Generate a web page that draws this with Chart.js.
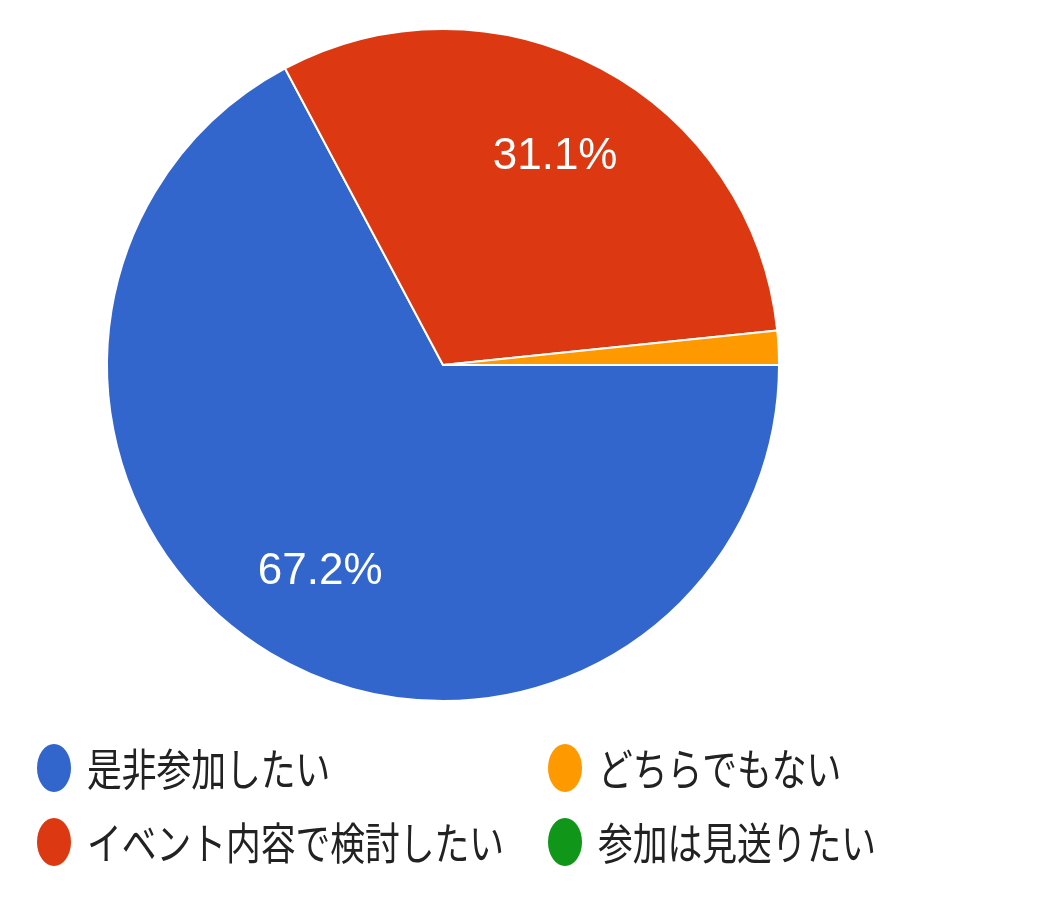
<!DOCTYPE html>
<html>
<head>
<meta charset="utf-8">
<script src="https://cdn.jsdelivr.net/npm/chart.js@4/dist/chart.umd.min.js"></script>
<style>
html,body{margin:0;padding:0;background:#fff;}
#wrap{width:1054px;height:918px;position:relative;}
</style>
</head>
<body>
<div id="wrap"><canvas id="c" width="1054" height="918"></canvas></div>
<script>
const categories = ["是非参加したい", "イベント内容で検討したい", "どちらでもない", "参加は見送りたい"];
const responses = [41, 19, 1, 0];
const sliceColors = ["#3366CC", "#DC3912", "#FF9900", "#109618"];

// legend layout: column order as in reference (left column first two, right column last two)
const legendOrder = [0, 1, 2, 3];

const pctLabels = {
  id: 'pctLabels',
  afterDatasetsDraw(chart) {
    const ctx = chart.ctx;
    const meta = chart.getDatasetMeta(0);
    const data = chart.data.datasets[0].data;
    const total = data.reduce((a, b) => a + b, 0);
    ctx.save();
    ctx.fillStyle = '#ffffff';
    ctx.font = '44px "Liberation Sans", Arial, sans-serif';
    ctx.textAlign = 'center';
    ctx.textBaseline = 'middle';
    meta.data.forEach((arc, i) => {
      const v = data[i] / total;
      if (v < 0.05) return;
      const p = arc.getProps(['x', 'y', 'startAngle', 'endAngle', 'outerRadius'], true);
      const mid = (p.startAngle + p.endAngle) / 2;
      const r = p.outerRadius * 0.71;
      ctx.fillText((v * 100).toFixed(1) + '%', p.x + Math.cos(mid) * r, p.y + Math.sin(mid) * r + 2);
    });
    ctx.restore();
  }
};

const customLegend = {
  id: 'customLegend',
  afterDraw(chart) {
    const ctx = chart.ctx;
    const labels = chart.data.labels;
    const colors = chart.data.datasets[0].backgroundColor;
    const colX = [54, 565];
    const rowY = [768, 842];
    ctx.save();
    legendOrder.forEach((idx, k) => {
      const col = Math.floor(k / 2), row = k % 2;
      const cx = colX[col], cy = rowY[row];
      ctx.fillStyle = colors[idx];
      ctx.beginPath();
      ctx.ellipse(cx, cy, 17, 24, 0, 0, Math.PI * 2);
      ctx.fill();
      ctx.save();
      ctx.translate(cx + 33, cy);
      ctx.scale(0.79, 1);
      ctx.fillStyle = '#222222';
      ctx.font = '44px "Noto Sans CJK JP", sans-serif';
      ctx.textAlign = 'left';
      ctx.textBaseline = 'middle';
      ctx.fillText(labels[idx], 0, 1);
      ctx.restore();
    });
    ctx.restore();
  }
};

new Chart(document.getElementById('c'), {
  type: 'pie',
  data: {
    labels: categories,
    datasets: [{
      data: responses,
      backgroundColor: sliceColors,
      borderColor: '#ffffff',
      borderWidth: 2
    }]
  },
  options: {
    responsive: false,
    animation: false,
    rotation: 90,
    layout: { padding: { left: 106, top: 28, right: 274, bottom: 216 } },
    plugins: {
      legend: { display: false },
      tooltip: { enabled: false },
      title: { display: false }
    }
  },
  plugins: [pctLabels, customLegend]
});
</script>
</body>
</html>
